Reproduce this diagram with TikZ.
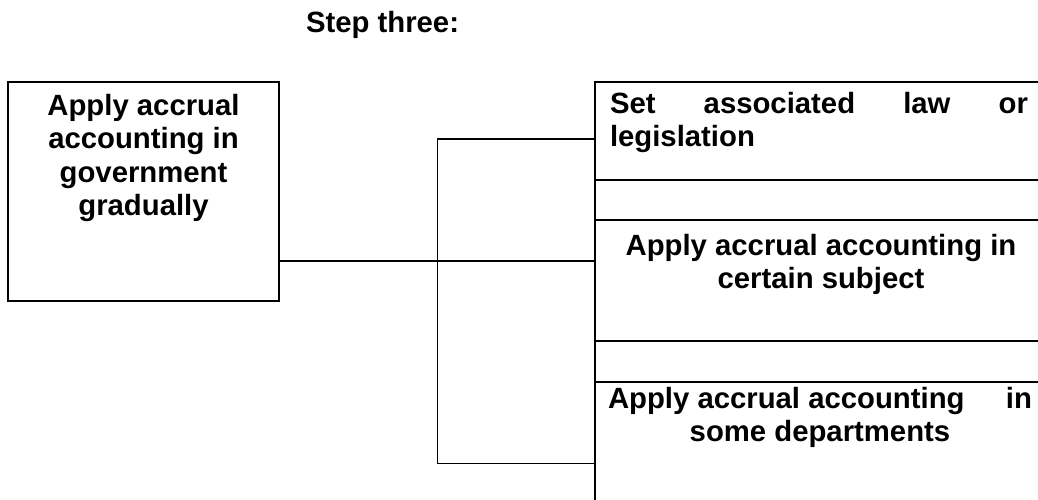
\documentclass[tikz,border=0pt]{standalone}
\usepackage{fontspec}
\setmainfont{Liberation Sans}
\begin{document}
\begin{tikzpicture}[x=1pt,y=-1pt,
  lbl/.style={font=\bfseries\fontsize{29.3}{33.5}\selectfont, inner sep=0pt, outer sep=0pt},
  thickline/.style={line width=2pt},
  thinline/.style={line width=1pt},
  boxframe/.style={draw, line width=2pt, inner sep=0pt, outer sep=0pt, anchor=north west},
]
\useasboundingbox (0,0) rectangle (1038,500);
% title
\node[lbl, anchor=base west] (title) at (306,33) {Step three:};
% left box
\node[boxframe, minimum width=271pt, minimum height=219pt] (main) at (8,82) {};
\node[lbl, align=center, anchor=north] (maintext) at (143.5,94) {Apply accrual\\accounting in\\government\\gradually};
% right boxes (open to the right, beyond the page)
\node[boxframe, minimum width=470pt, minimum height=98pt] (r1) at (595,82) {};
\node[boxframe, minimum width=470pt, minimum height=121pt] (r2) at (595,220) {};
\node[boxframe, minimum width=470pt, minimum height=150pt] (r3) at (595,382) {};
\draw[thickline] (r1.south west) -- (r2.north west);
\draw[thickline] (r2.south west) -- (r3.north west);
% texts of right boxes
\node[lbl, align=left, anchor=north west] (t1) at (610,92) {\hbox to 418pt{Set\hfill associated\hfill law\hfill or}\\legislation};
\node[lbl, align=center, anchor=north] (t2) at (821,234) {Apply accrual accounting in\\certain subject};
\node[lbl, align=center, anchor=north west] (t3) at (608,387) {\hbox to 424pt{Apply accrual accounting\hfill in}\\some departments};
% connectors
\coordinate (bt) at (437,139);
\coordinate (bm) at (437,261);
\coordinate (bb) at (437,463);
\draw[thickline] (main.east |- bm) -- (r2.west |- bm);
\draw[thickline] (bt) -- (r1.west |- bt);
\draw[thinline] (bt) -- (bb);
\draw[thinline] (bb) -- (r3.west |- bb);
\end{tikzpicture}
\end{document}
